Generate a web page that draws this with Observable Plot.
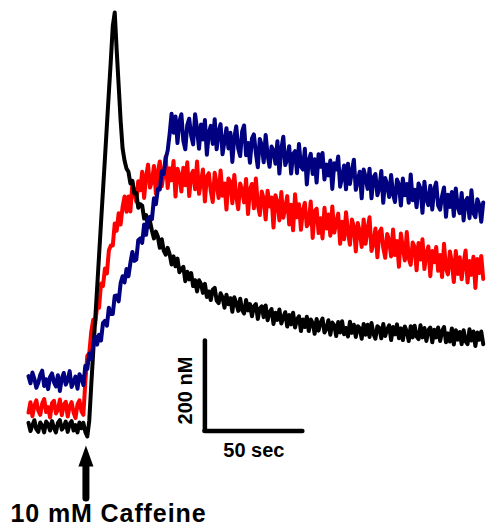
<!DOCTYPE html>
<html>
<head>
<meta charset="utf-8">
<script src="https://cdn.jsdelivr.net/npm/d3@7"></script>
<script src="https://cdn.jsdelivr.net/npm/@observablehq/plot@0.6"></script>
<style>
  html, body { margin: 0; padding: 0; background: #fff; }
  svg { display: block; }
</style>
</head>
<body>
<div id="chart"></div>
<script>
// Sampling times (sec)
const time = [
  0,1,2,3,4,5,6,7,8,9,10,11,12,13,14,15,16,17,18,19,
  20,21,22,23,24,25,26,27,28,29,30,31,32,33,34,35,36,37,38,39,
  40,41,42,43,44,45,46,47,48,49,50,51,52,53,54,55,56,57,58,59,
  60,61,62,63,64,65,66,67,68,69,70,71,72,73,74,75,76,77,78,79,
  80,81,82,83,84,85,86,87,88,89,90,91,92,93,94,95,96,97,98,99,
  100,101,102,103,104,105,106,107,108,109,110,111,112,113,114,115,116,117,118,119,
  120,121,122,123,124,125,126,127,128,129,130,131,132,133,134,135,136,137,138,139,
  140,141,142,143,144,145,146,147,148,149,150,151,152,153,154,155,156,157,158,159,
  160,161,162,163,164,165,166,167,168,169,170,171,172,173,174,175,176,177,178,179,
  180,181,182,183,184,185,186,187,188,189,190,191,192,193,194,195,196,197,198,199,
  200,201,202,203,204,205,206,207,208,209,210,211,212,213,214,215,216,217,218,219,
  220,221,222,223,224,225,226,227,228,229,230,231,232];

// [Ca2+] traces (nM), one value per second
const blackTrace = [
  128,110,123,134,114,108,129,122,107,131,
  125,111,132,117,107,128,134,113,119,131,
  108,126,132,111,123,107,129,116,128,108,
  98,133,211,284,356,427,500,573,644,716,
  789,862,933,1010,1040,956,878,800,738,711,
  693,686,660,666,638,639,606,614,611,582,
  590,563,576,555,538,553,542,517,536,511,
  502,517,503,480,498,476,493,463,470,475,
  443,464,447,461,432,445,420,445,437,417,
  437,408,420,401,424,428,400,394,416,407,
  384,413,392,405,375,407,394,377,404,379,
  371,401,378,392,365,387,392,359,382,387,
  363,389,356,374,381,348,373,357,380,349,
  363,374,342,368,347,373,340,358,365,332,
  358,341,364,332,358,350,326,359,333,351,
  360,329,337,356,324,351,345,321,352,329,
  354,325,339,320,353,328,346,319,343,338,
  315,348,324,346,319,350,326,315,343,339,
  316,348,321,336,345,312,341,325,347,316,
  338,312,342,331,310,343,318,344,320,314,
  345,318,339,310,334,340,307,335,318,340,
  310,332,341,307,327,309,338,302,334,313,
  330,303,334,309,303,336,311,331,299,329,
  313,331,303];

const redTrace = [
  151,174,143,166,178,155,146,171,181,152,
  163,140,172,177,149,157,180,145,168,175,
  142,165,174,151,139,169,178,154,146,220,
  277,282,330,357,348,386,384,438,432,471,
  460,511,522,522,571,555,594,569,608,631,
  597,631,598,660,640,620,665,645,686,628,
  676,702,651,665,699,637,686,709,654,682,
  720,650,694,667,710,631,693,679,642,695,
  656,707,632,679,688,647,709,637,664,691,
  620,675,683,643,619,684,659,628,689,633,
  660,602,671,664,616,679,632,603,660,645,
  618,670,592,647,659,605,671,613,590,642,
  626,580,644,609,629,562,634,618,578,641,
  584,605,632,569,613,556,636,585,614,557,
  600,617,565,572,620,539,599,604,550,583,
  538,606,560,591,544,609,551,573,593,526,
  575,536,596,551,524,580,564,509,572,553,
  519,580,526,559,585,510,528,560,496,551,
  560,517,495,548,532,498,558,501,532,475,
  549,517,489,552,494,479,529,519,467,528,
  491,536,470,505,520,454,510,485,519,466,
  501,452,526,471,458,509,484,441,510,459,
  496,447,483,511,440,488,457,497,428,492,
  461,499,448];

const blueTrace = [
  232,216,240,226,206,217,235,244,210,225,
  203,230,238,218,209,234,199,227,239,213,
  223,243,208,219,231,204,236,229,212,255,
  248,282,270,300,320,302,324,311,350,355,
  344,384,370,370,410,411,398,438,454,440,
  470,454,484,508,488,491,534,538,528,569,
  546,582,586,581,627,614,648,647,687,681,
  715,733,770,815,773,809,750,798,814,755,
  736,790,804,766,747,814,781,737,791,758,
  801,724,773,788,748,803,736,775,792,725,
  754,783,738,773,708,762,787,738,721,776,
  789,723,750,706,760,769,728,696,759,745,
  707,768,723,697,742,733,704,754,682,737,
  764,701,714,743,682,726,732,683,748,698,
  691,737,658,711,726,681,714,662,725,697,
  728,669,702,678,711,648,705,691,720,653,
  674,700,647,704,659,687,713,646,667,686,
  627,691,674,648,693,627,674,681,634,651,
  688,617,672,657,630,679,636,619,669,658,
  611,671,634,659,617,680,623,646,607,660,
  649,595,664,625,612,655,602,647,662,611,
  602,632,651,586,635,608,641,588,649,609,
  594,639,578,621,628,583,645,594,585,625,
  612,575,618];

const seriesNames = ["red", "black", "blue"];
const seriesColors = ["#ff0000", "#000000", "#000080"];

// Scale bar and annotation (data units)
const scaleBarTime = [90, 140];      // 50 sec
const scaleBarConc = [110, 310];     // 200 nM
const concLabel = "200 nM";
const timeLabel = "50 sec";
const stimulusTime = 29.3;
const stimulusLabel = "10 mM Caffeine";
const arrowShaft = [-40, 31];
const labelPos = {conc: {t: 80.3, c: 200}, time: {t: 115, c: 66}, stim: {t: -9.2, c: -74}};

const traceValues = {red: redTrace, black: blackTrace, blue: blueTrace};
const rows = name => time.map((t, i) => ({t, c: traceValues[name][i], series: name}));

// elongated filled triangle arrow-head symbol (tip upward)
const arrowHead = {
  draw(context) {
    const w = 7.5, h = 21;
    context.moveTo(0, -h);
    context.lineTo(w, 0);
    context.lineTo(-w, 0);
    context.closePath();
  }
};

const font = "Liberation Sans, Arial, Helvetica, sans-serif";

const chart = Plot.plot({
  width: 488,
  height: 527,
  margin: 0,
  style: {background: "#fff"},
  x: {domain: [0, 250], range: [28, 518], axis: null},
  y: {domain: [0, 1000], range: [480, 30], axis: null},
  marks: [
    ...seriesNames.map((name, k) =>
      Plot.line(rows(name), {x: "t", y: "c", stroke: seriesColors[k], strokeWidth: 4})),
    // scale bar
    Plot.ruleX([scaleBarTime[0]], {y1: scaleBarConc[0], y2: scaleBarConc[1], stroke: "#000", strokeWidth: 4.5, strokeLinecap: "round"}),
    Plot.ruleY([scaleBarConc[0]], {x1: scaleBarTime[0], x2: scaleBarTime[1], stroke: "#000", strokeWidth: 4.5, strokeLinecap: "round"}),
    Plot.text([concLabel], {x: labelPos.conc.t, y: labelPos.conc.c, rotate: -90, fontSize: 20, fontWeight: "bold", fontFamily: font, fill: "#000"}),
    Plot.text([timeLabel], {x: labelPos.time.t, y: labelPos.time.c, fontSize: 20, fontWeight: "bold", fontFamily: font, fill: "#000"}),
    // stimulus arrow
    Plot.ruleX([stimulusTime], {y1: arrowShaft[0], y2: arrowShaft[1], stroke: "#000", strokeWidth: 7, strokeLinecap: "round"}),
    Plot.dot([stimulusTime], {x: d => d, y: arrowShaft[1], symbol: arrowHead, fill: "#000", stroke: "none", r: 6}),
    Plot.text([stimulusLabel], {x: labelPos.stim.t, y: labelPos.stim.c, textAnchor: "start", fontSize: 25, fontWeight: "bold", fontFamily: font, fill: "#000"})
  ]
});

// widen the caption slightly to match the reference lettering
d3.select(chart).selectAll("text")
  .filter(function() { return this.textContent === stimulusLabel; })
  .style("letter-spacing", "0.9px");

document.getElementById("chart").appendChild(chart);
</script>
</body>
</html>
